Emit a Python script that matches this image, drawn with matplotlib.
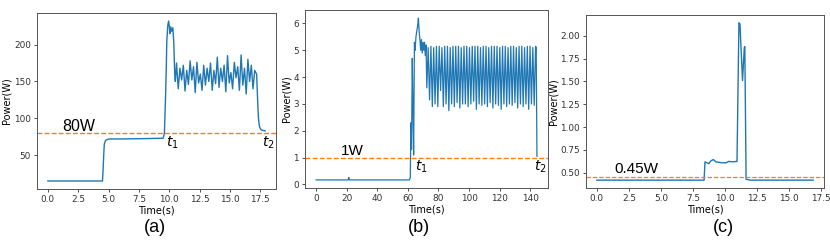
import numpy as np
import matplotlib
matplotlib.use("Agg")
import matplotlib.pyplot as plt

# ---------------- Panel (a) data ----------------
a_time_head = [0.0, 4.5, 4.55, 4.6, 4.65, 4.75, 5.0, 6.0, 8.0, 9.5, 9.6, 9.65, 9.7,
               9.75, 9.8, 9.88, 9.95, 10.0, 10.05, 10.12, 10.2, 10.3, 10.38, 10.45, 10.5]
a_power_head = [15, 15, 30, 50, 65, 70, 72, 72, 72.5, 73, 80, 105, 130,
                165, 205, 226, 232, 226, 215, 224, 218, 223, 200, 160, 150]
a_osc_t0 = 10.6
a_osc_dt = 0.14
a_osc_power = [175, 140, 168, 152, 172, 137, 165, 146, 178, 152, 170, 135,
               176, 148, 160, 138, 172, 145, 168, 150, 175, 138, 165, 147,
               183, 142, 168, 150, 172, 136, 185, 148, 162, 140, 176, 155,
               170, 138, 186, 145, 168, 133, 180, 150, 172, 140, 165]
a_time_tail = [17.2, 17.28, 17.35, 17.42, 17.5, 17.6, 17.9]
a_power_tail = [160, 125, 100, 90, 86, 84, 83]
a_threshold = 80

# ---------------- Panel (b) data ----------------
b_time_head = [0, 21.0, 21.4, 21.8, 61.0, 61.6, 62.0, 62.4, 62.9, 63.3, 63.8, 64.3,
               64.8, 65.3, 65.8, 66.4, 66.9, 67.4, 67.9, 68.4, 68.9, 69.4, 69.9,
               70.4, 70.9, 71.4, 71.9]
b_power_head = [0.17, 0.17, 0.26, 0.17, 0.17, 0.25, 2.3, 1.3, 4.7, 3.0, 1.1, 5.3,
                5.0, 5.5, 5.7, 5.9, 6.2, 5.7, 5.4, 5.0, 5.4, 4.9, 5.3, 5.0, 5.3,
                4.8, 5.2]
b_osc_t0 = 72.4
b_osc_dt = 0.9
b_osc_low = [3.6, 3.15, 2.9, 3.0, 2.9, 3.5, 2.9, 3.0, 2.75, 3.0, 2.9, 3.05,
             2.85, 3.0, 3.0, 2.9, 3.0, 3.1, 2.8, 3.0, 2.95, 3.0, 2.9, 3.05,
             2.85, 3.0, 2.95, 2.8, 3.0, 2.9, 3.0, 2.95, 3.05, 2.85, 3.0, 2.9,
             3.0, 2.8, 3.0, 2.95]
b_osc_high = [5.1, 5.15, 5.1, 5.15, 5.15, 5.1, 5.15, 5.15, 5.1, 5.15, 5.15, 5.15,
              5.1, 5.15, 5.15, 5.1, 5.15, 5.15, 5.15, 5.1, 5.15, 5.15, 5.1, 5.15,
              5.15, 5.15, 5.1, 5.15, 5.15, 5.1, 5.15, 5.15, 5.1, 5.15, 5.15, 5.1,
              5.15, 5.15, 5.1, 5.15]
b_time_tail = [143.9, 144.4]
b_power_tail = [5.1, 1.05]
b_threshold = 1

# ---------------- Panel (c) data ----------------
c_time = [0, 8.38, 8.45, 8.6, 8.75, 8.9, 9.1, 9.3, 9.5, 9.8, 10.1, 10.3, 10.6,
          10.95, 11.1, 11.18, 11.38, 11.52, 11.56, 11.66, 12.0, 16.9]
c_power = [0.42, 0.42, 0.62, 0.61, 0.60, 0.63, 0.645, 0.62, 0.615, 0.61, 0.61,
           0.625, 0.62, 0.625, 2.14, 2.13, 1.51, 1.87, 1.88, 0.43, 0.42, 0.42]
c_threshold = 0.45

# ---------------- Assemble series ----------------
a_osc_time = [a_osc_t0 + i * a_osc_dt for i in range(len(a_osc_power))]
a_time = a_time_head + a_osc_time + a_time_tail
a_power = a_power_head + a_osc_power + a_power_tail

b_osc_power = []
for lo, hi in zip(b_osc_low, b_osc_high):
    b_osc_power += [lo, hi]
b_osc_time = [b_osc_t0 + i * b_osc_dt for i in range(len(b_osc_power))]
b_time = b_time_head + b_osc_time + b_time_tail
b_power = b_power_head + b_osc_power + b_power_tail

# ---------------- Figure ----------------
fig = plt.figure(figsize=(8.3, 2.4), dpi=100)
W, H = 830, 240

def axes_px(l, r, t, b):
    return fig.add_axes([l / W, (H - b) / H, (r - l) / W, (b - t) / H])

ax_a = axes_px(37, 276, 13, 189)
ax_b = axes_px(305, 548, 10, 188)
ax_c = axes_px(586, 824, 15, 188)

blue = "#1f77b4"
orange = "#ff7f0e"
tick_fs = 6.4
label_fs = 7.0
ann_font = "Liberation Sans"

for ax in (ax_a, ax_b, ax_c):
    ax.tick_params(labelsize=tick_fs, length=2.5, width=0.6, pad=2, colors="#333333")
    for s in ax.spines.values():
        s.set_linewidth(0.7)
        s.set_color("#555555")
    ax.set_xlabel("Time(s)", fontsize=label_fs, labelpad=1.2)
    ax.set_ylabel("Power(W)", fontsize=label_fs, labelpad=1.5)

# Panel a
ax_a.plot(a_time, a_power, color=blue, lw=1.0)
ax_a.axhline(a_threshold, color=orange, lw=1.0, ls=(0, (3.5, 1.6)))
ax_a.set_xticks([0, 2.5, 5, 7.5, 10, 12.5, 15, 17.5])
ax_a.set_xticklabels(["0.0", "2.5", "5.0", "7.5", "10.0", "12.5", "15.0", "17.5"])
ax_a.set_yticks([50, 100, 150, 200])
ax_a.text(1.15, 83, "80W", fontsize=11.5, family=ann_font, va="baseline")
ax_a.text(9.75, 78, "$t_1$", fontsize=10, va="top", ha="left")
ax_a.text(17.65, 78, "$t_2$", fontsize=10, va="top", ha="left")

# Panel b
ax_b.plot(b_time, b_power, color=blue, lw=0.9)
ax_b.axhline(b_threshold, color=orange, lw=1.0, ls=(0, (3.5, 1.6)))
ax_b.set_xticks([0, 20, 40, 60, 80, 100, 120, 140])
ax_b.set_yticks([0, 1, 2, 3, 4, 5, 6])
ax_b.text(16.5, 1.08, "1W", fontsize=11, family=ann_font, va="baseline")
ax_b.text(64.8, 0.95, "$t_1$", fontsize=10, va="top", ha="left")
ax_b.text(142.3, 0.95, "$t_2$", fontsize=10, va="top", ha="left")

# Panel c
ax_c.plot(c_time, c_power, color=blue, lw=1.0)
ax_c.axhline(c_threshold, color=orange, lw=0.9, ls=(0, (3.5, 1.6)))
ax_c.set_xticks([0, 2.5, 5, 7.5, 10, 12.5, 15, 17.5])
ax_c.set_xticklabels(["0.0", "2.5", "5.0", "7.5", "10.0", "12.5", "15.0", "17.5"])
ax_c.set_yticks([0.5, 0.75, 1.0, 1.25, 1.5, 1.75, 2.0])
ax_c.set_yticklabels(["0.50", "0.75", "1.00", "1.25", "1.50", "1.75", "2.00"])
ax_c.text(1.4, 0.5, "0.45W", fontsize=11, family=ann_font, va="baseline")

# Panel captions
for label, xc in (("(a)", 155), ("(b)", 419), ("(c)", 723)):
    fig.text(xc / W, (H - 228) / H, label, fontsize=13, family=ann_font,
             ha="center", va="center")

fig.savefig("out.png", dpi=100)
